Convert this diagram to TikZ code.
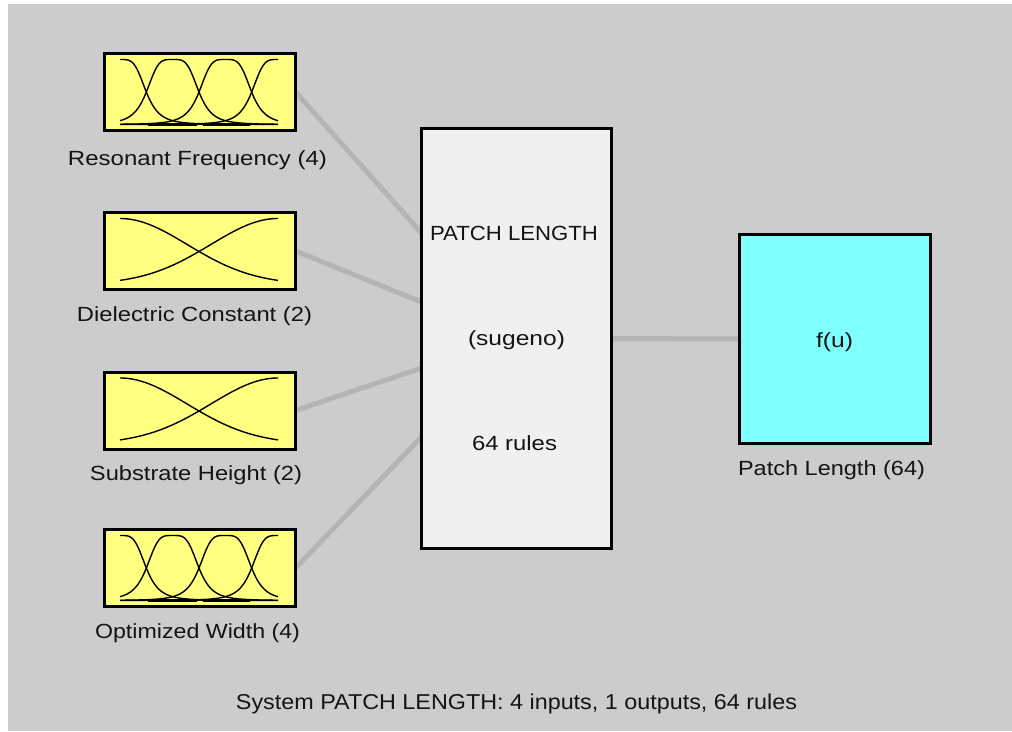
\documentclass[tikz,border=0pt]{standalone}
\usepackage{fontspec}
\setmainfont{Liberation Sans}
\usetikzlibrary{calc}
\pgfdeclarelayer{canvas}
\pgfdeclarelayer{bg}
\pgfsetlayers{canvas,bg,main}

\definecolor{panel}{HTML}{CCCCCC}
\definecolor{wire}{HTML}{B4B4B4}
\definecolor{mfyellow}{HTML}{FFFF80}
\definecolor{outcyan}{HTML}{80FFFF}
\definecolor{rulebox}{HTML}{F0F0F0}
\definecolor{ink}{HTML}{141414}

% stretch a text horizontally to a given width, keeping its height
\newcommand{\fitto}[2]{\resizebox{#1}{\height}{#2}}

\tikzset{
  block/.style={draw=black, line width=3pt, inner sep=0pt, outer sep=0pt},
  inbox/.style={block, fill=mfyellow, minimum width=191pt, minimum height=77pt},
  rulesbox/.style={block, fill=rulebox, minimum width=190pt, minimum height=420pt},
  outbox/.style={block, fill=outcyan, minimum width=191pt, minimum height=209pt},
  txt/.style={anchor=base, inner sep=0pt, outer sep=0pt,
              font=\fontsize{20.5}{24}\selectfont, text=ink},
  wireline/.style={draw=wire, line width=5pt},
  mf/.style={line width=1.4pt, line join=round},
}

% four generalized-bell membership functions
\newcommand{\fourmf}{%
  \draw[line width=1pt] (15.5,71) -- (173.5,71);
  \foreach \c in {15.5,68.17,120.83,173.5}
    \draw[mf] plot[domain=15.5:173.5, samples=120, smooth]
      (\x,{71-65/(1+(abs(\x-\c)/26.33)^4)});
  \draw[line width=3pt] (43,71) -- (92,71);
  \draw[line width=3pt] (98,71) -- (145,71);
}
% two Gaussian membership functions
\newcommand{\twomf}{%
  \foreach \c in {15.5,173.5}
    \draw[mf] plot[domain=15.5:173.5, samples=100, smooth]
      (\x,{6+66*(1-exp(-0.5*((\x-\c)/67.1)^2))});
}

\begin{document}
\begin{tikzpicture}[x=1pt,y=-1pt]
  \useasboundingbox (0,0) rectangle (1012,731);
  \begin{pgfonlayer}{canvas}
    \fill[white] (0,0) rectangle (1012,731);
    \fill[panel] (8,4) rectangle (1012,731);
  \end{pgfonlayer}

  % input variables
  \node[inbox] (in1) at (200,92) {};
  \node[inbox] (in2) at (200,251) {};
  \node[inbox] (in3) at (200,410.5) {};
  \node[inbox] (in4) at (200,568) {};

  \begin{scope}[shift={(in1.north west)}] \fourmf \end{scope}
  \begin{scope}[shift={(in2.north west)}] \twomf \end{scope}
  \begin{scope}[shift={(in3.north west)}] \twomf \end{scope}
  \begin{scope}[shift={(in4.north west)}] \fourmf \end{scope}

  \node[txt] (l1) at ($(in1.south)+(-2.5,34.5)$) {\fitto{259pt}{Resonant Frequency (4)}};
  \node[txt] (l2) at ($(in2.south)+(-5.5,31.5)$) {\fitto{235pt}{Dielectric Constant (2)}};
  \node[txt] (l3) at ($(in3.south)+(-4,31)$) {\fitto{212pt}{Substrate Height (2)}};
  \node[txt] (l4) at ($(in4.south)+(-2.5,31.5)$) {\fitto{205pt}{Optimized Width (4)}};

  % rule base
  \node[rulesbox] (mid) at (516.5,338.5) {};
  \node[txt] (mname) at (514,240) {\fitto{168pt}{PATCH LENGTH}};
  \node[txt] (mtype) at (516.5,345) {\fitto{97pt}{(sugeno)}};
  \node[txt] (mrules) at (514.5,450) {\fitto{85pt}{64 rules}};

  % output variable
  \node[outbox] (out) at (835,339) {};
  \node[txt] (fu) at (834.5,347) {\fitto{37pt}{f(u)}};
  \node[txt] (lout) at ($(out.south)+(-3.5,31.5)$) {\fitto{187pt}{Patch Length (64)}};

  % summary line
  \node[txt, font=\fontsize{21.5}{25}\selectfont] (summary) at (516.5,709)
    {\fitto{561pt}{System PATCH LENGTH: 4 inputs, 1 outputs, 64 rules}};

  % connections behind the blocks
  \coordinate (m1) at ($(mid.north west)+(0,104.5)$);
  \coordinate (m2) at ($(mid.north west)+(0,173.5)$);
  \coordinate (m3) at ($(mid.north west)+(0,239.5)$);
  \coordinate (m4) at ($(mid.north west)+(0,308.5)$);
  \begin{pgfonlayer}{bg}
    \draw[wireline] (in1.east) -- (m1);
    \draw[wireline] (in2.east) -- (m2);
    \draw[wireline] (in3.east) -- (m3);
    \draw[wireline] (in4.east) -- (m4);
    \draw[wireline] (mid.center) -- (out.center);
  \end{pgfonlayer}
\end{tikzpicture}
\end{document}
